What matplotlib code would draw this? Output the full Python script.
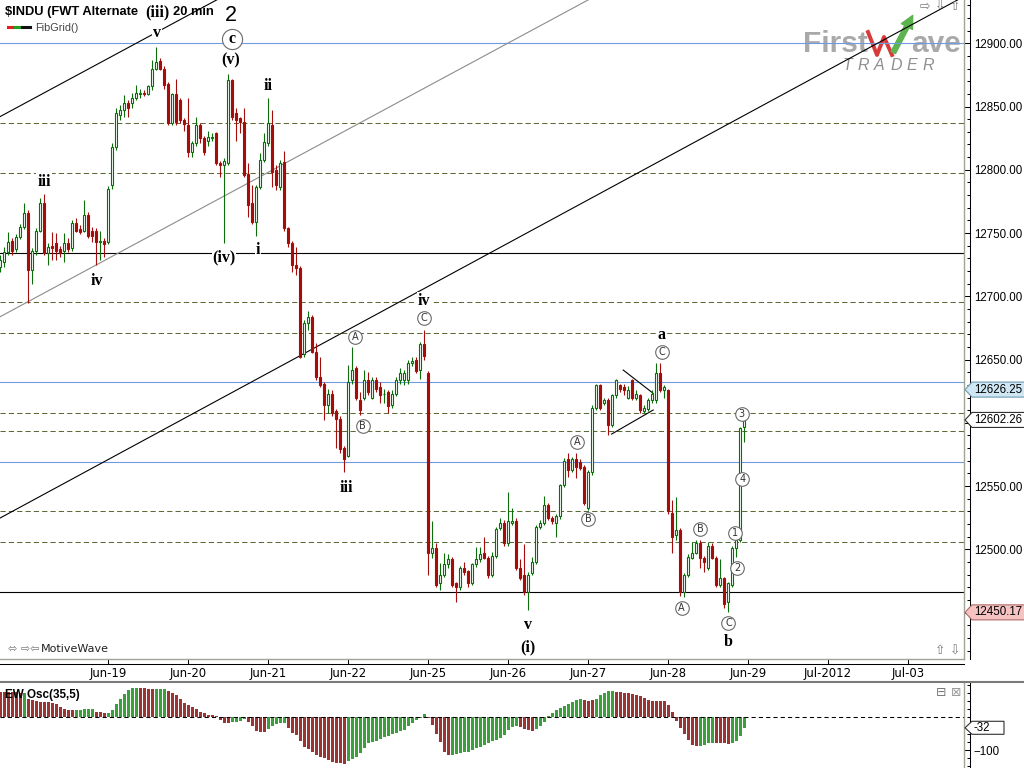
import numpy as np
import matplotlib
matplotlib.use("Agg")
import matplotlib.pyplot as plt
from matplotlib.patches import Polygon, FancyArrowPatch
from matplotlib.lines import Line2D
from matplotlib.transforms import IdentityTransform
from matplotlib.ticker import MultipleLocator, FuncFormatter

plt.rcParams['font.family'] = ['DejaVu Sans']

# 20 min bars of $INDU, last bars of Jun-15 up to the Jun-28 close
opens = [12723, 12727, 12735, 12744, 12737, 12747, 12755, 12766, 12721, 12736,
         12752, 12774, 12734, 12740, 12742, 12737, 12736, 12742, 12738, 12758,
         12753, 12752, 12764, 12752, 12752, 12743, 12744, 12743, 12788, 12818,
         12843, 12847, 12853, 12853, 12857, 12860, 12861, 12860, 12866, 12880,
         12886, 12880, 12868, 12837, 12860, 12855, 12839, 12835, 12814, 12821,
         12835, 12825, 12823, 12825, 12829, 12805, 12804, 12805, 12871, 12845,
         12841, 12838, 12797, 12774, 12759, 12786, 12808, 12821, 12835, 12800,
         12786, 12806, 12754, 12742, 12725, 12722, 12654, 12679, 12684, 12656,
         12636, 12631, 12614, 12623, 12609, 12603, 12580, 12574, 12634, 12643,
         12618, 12620, 12634, 12620, 12634, 12628, 12623, 12624, 12614, 12623,
         12634, 12634, 12634, 12647, 12650, 12642, 12662, 12639, 12497, 12501,
         12473, 12480, 12488, 12492, 12473, 12470, 12485, 12483, 12473, 12488,
         12492, 12497, 12493, 12480, 12495, 12517, 12521, 12505, 12521, 12522,
         12485, 12480, 12466, 12481, 12490, 12518, 12521, 12535, 12525, 12521,
         12526, 12551, 12571, 12563, 12571, 12569, 12565, 12533, 12561, 12612,
         12630, 12616, 12618, 12598, 12622, 12630, 12628, 12620, 12634, 12620,
         12622, 12609, 12611, 12618, 12618, 12639, 12626, 12626, 12529, 12511,
         12515, 12466, 12480, 12493, 12497, 12505, 12493, 12485, 12503, 12493,
         12472, 12477, 12458, 12472, 12501, 12507, 12597]
highs = [12733, 12739, 12751, 12746, 12749, 12757, 12774, 12768, 12738, 12754,
         12778, 12781, 12742, 12751, 12750, 12740, 12750, 12746, 12760, 12762,
         12756, 12776, 12767, 12755, 12754, 12752, 12746, 12787, 12821, 12849,
         12851, 12859, 12855, 12861, 12867, 12864, 12863, 12867, 12887, 12897,
         12888, 12882, 12869, 12861, 12872, 12857, 12841, 12857, 12823, 12842,
         12837, 12827, 12831, 12829, 12830, 12807, 12809, 12876, 12872, 12849,
         12842, 12849, 12805, 12788, 12788, 12813, 12829, 12857, 12847, 12804,
         12808, 12815, 12755, 12744, 12739, 12724, 12681, 12688, 12685, 12663,
         12652, 12632, 12627, 12626, 12611, 12605, 12582, 12646, 12660, 12645,
         12624, 12642, 12640, 12636, 12636, 12632, 12627, 12626, 12626, 12636,
         12643, 12642, 12650, 12652, 12652, 12664, 12673, 12641, 12522, 12505,
         12489, 12497, 12496, 12494, 12474, 12487, 12490, 12484, 12489, 12502,
         12502, 12510, 12495, 12498, 12518, 12525, 12523, 12545, 12533, 12525,
         12492, 12504, 12482, 12494, 12519, 12523, 12542, 12537, 12526, 12528,
         12552, 12572, 12576, 12573, 12576, 12571, 12567, 12563, 12614, 12631,
         12631, 12620, 12620, 12623, 12635, 12631, 12631, 12629, 12635, 12626,
         12623, 12614, 12620, 12626, 12647, 12647, 12630, 12627, 12539, 12541,
         12517, 12481, 12496, 12506, 12507, 12507, 12495, 12506, 12505, 12495,
         12492, 12478, 12474, 12503, 12510, 12597, 12604]
lows = [12719, 12723, 12733, 12733, 12735, 12745, 12753, 12695, 12710, 12733,
        12751, 12733, 12725, 12729, 12729, 12731, 12727, 12735, 12736, 12751,
        12749, 12751, 12746, 12743, 12725, 12729, 12731, 12741, 12785, 12816,
        12839, 12842, 12842, 12849, 12855, 12857, 12858, 12859, 12863, 12879,
        12879, 12864, 12835, 12835, 12835, 12837, 12831, 12810, 12810, 12819,
        12821, 12812, 12819, 12823, 12804, 12794, 12742, 12804, 12839, 12823,
        12829, 12794, 12763, 12757, 12748, 12785, 12806, 12819, 12786, 12784,
        12784, 12752, 12739, 12719, 12717, 12651, 12652, 12673, 12655, 12634,
        12628, 12602, 12608, 12605, 12580, 12576, 12561, 12573, 12631, 12618,
        12606, 12618, 12622, 12619, 12624, 12616, 12616, 12608, 12612, 12621,
        12631, 12630, 12631, 12645, 12639, 12635, 12650, 12480, 12493, 12470,
        12468, 12478, 12485, 12470, 12458, 12468, 12480, 12470, 12472, 12486,
        12490, 12492, 12477, 12478, 12493, 12515, 12503, 12503, 12519, 12484,
        12476, 12464, 12452, 12480, 12488, 12516, 12519, 12523, 12520, 12510,
        12524, 12549, 12557, 12561, 12556, 12563, 12535, 12531, 12559, 12610,
        12610, 12614, 12590, 12597, 12620, 12624, 12622, 12619, 12618, 12618,
        12608, 12608, 12609, 12616, 12616, 12624, 12620, 12528, 12497, 12507,
        12463, 12462, 12478, 12492, 12496, 12485, 12482, 12484, 12492, 12470,
        12470, 12454, 12450.17, 12470, 12494, 12506, 12585]
closes = [12729, 12735, 12743, 12736, 12747, 12755, 12766, 12721, 12736, 12752,
          12774, 12734, 12739, 12738, 12736, 12734, 12742, 12737, 12758, 12752,
          12751, 12764, 12748, 12748, 12743, 12744, 12741, 12785, 12818, 12845,
          12847, 12853, 12849, 12857, 12861, 12861, 12860, 12866, 12880, 12885,
          12880, 12867, 12837, 12860, 12838, 12839, 12836, 12814, 12821, 12835,
          12825, 12814, 12826, 12826, 12805, 12804, 12807, 12871, 12842, 12839,
          12838, 12796, 12772, 12759, 12786, 12808, 12822, 12837, 12798, 12788,
          12805, 12754, 12742, 12725, 12722, 12652, 12679, 12684, 12656, 12636,
          12630, 12614, 12623, 12608, 12603, 12579, 12571, 12632, 12642, 12620,
          12610, 12634, 12624, 12634, 12627, 12622, 12623, 12613, 12623, 12634,
          12639, 12639, 12647, 12649, 12641, 12662, 12653, 12497, 12501, 12472,
          12480, 12488, 12492, 12472, 12470, 12485, 12482, 12473, 12488, 12492,
          12496, 12493, 12480, 12495, 12516, 12521, 12505, 12522, 12522, 12485,
          12477, 12466, 12480, 12490, 12518, 12521, 12535, 12525, 12522, 12526,
          12551, 12570, 12563, 12571, 12565, 12564, 12537, 12561, 12612, 12630,
          12612, 12618, 12598, 12622, 12634, 12627, 12626, 12626, 12620, 12623,
          12610, 12612, 12618, 12623, 12639, 12626, 12628, 12530, 12510, 12515,
          12466, 12480, 12494, 12497, 12505, 12493, 12490, 12503, 12493, 12472,
          12477, 12457, 12473, 12501, 12507, 12596, 12602.26]

# EW oscillator (35,5) histogram, one value per bar, r = falling, g = rising
osc_vals = [77, 77, 77, 77, 76, 74, 74,
            57, 52, 50, 48, 46, 46, 44, 40, 32, 26, 22, 22,
            22, 22, 24, 24, 24, 17, 15, 12,
            12, 22, 40, 55, 72, 85, 91, 91, 91, 89, 88, 88, 88, 88, 88,
            81, 75, 67, 56, 45, 38, 32, 25, 16, 12, 7, 7, 4, -8, -16, -16,
            -13, -13, -10, -4, -13, -28, -41, -46, -46, -36, -28, -21, -18, -18,
            -33, -48, -55, -73, -91, -98, -105, -116, -121, -123, -131, -136, -140, -140, -142,
            -135, -128, -121, -108, -93, -80, -75, -71, -65, -60, -56, -51, -48, -43, -38,
            -28, -16, -8, -1, 10,
            -1, -23, -50, -76, -106, -116,
            -116, -113, -108, -106, -106, -100, -95, -90, -85, -78, -73, -68, -63, -53, -40, -31, -28,
            -31, -35, -40, -43,
            -36, -26, -13, 5, 14, 22, 29, 35, 40, 46, 52, 57,
            52, 50, 52, 57, 67, 75, 80, 80,
            79, 77, 75, 75, 70, 69, 65, 60, 54, 50, 50, 50, 50, 37, 15, -10, -33, -50, -68, -85, -88,
            -88, -85, -80, -78, -78, -78, -80, -83, -78, -73, -58, -32]
osc_colors = ("rrrrrrg" + "r" * 12 + "g" * 5 + "r" * 3 + "g" * 8 + "r" * 4 + "g" * 3
              + "r" * 16 + "g" * 4 + "r" * 5 + "g" * 5 + "r" * 15 + "g" * 20 + "r" * 6
              + "g" * 17 + "r" * 4 + "g" * 12 + "r" * 3 + "g" * 5 + "r" * 21 + "g" * 4
              + "r" * 4 + "g" * 4)

day_ticks = [27, 47, 67, 87, 107, 127, 147, 167, 187, 207, 227]
day_labels = ['Jun-19', 'Jun-20', 'Jun-21', 'Jun-22', 'Jun-25', 'Jun-26',
              'Jun-27', 'Jun-28', 'Jun-29', 'Jul-2012', 'Jul-03']

# FibGrid levels
fib_dashed = [12836.7, 12797.2, 12695.2, 12670.7, 12607.5, 12593.5, 12530.3, 12505.5]
fib_blue = [12900.0, 12632.0, 12568.8]
fib_black = [12734.0, 12466.5]

# trend lines (bar index, price)
channel_top = ([0, 60], [12842.0, 12944.2])
channel_mid = ([0, 150], [12683.8, 12939.3])
channel_low = ([0, 241], [12524.7, 12937.0])
tri_upper = ([155.8, 163.3], [12641.7, 12623.3])
tri_lower = ([152.9, 163.3], [12591.1, 12610.1])

wave_labels = [('(iii)', 39.25, 12924.7), ('v', 39.25, 12908.1), ('(v)', 57.75, 12886.8),
               ('ii', 67, 12866.2), ('iii', 11, 12790.3), ('iv', 24.25, 12712.1),
               ('(iv)', 56, 12731.1), ('i', 64.5, 12736.6), ('iv', 106, 12696.5),
               ('iii', 86.5, 12548.4), ('v', 132.1, 12440.1), ('(i)', 132, 12422.7),
               ('a', 165.4, 12669.4), ('b', 182, 12426.7)]
circle_labels = [('A', 88.75, 12667.8), ('B', 90.7, 12597.7), ('C', 106, 12682.8),
                 ('A', 144.2, 12585.0), ('B', 147.1, 12523.9), ('C', 165.5, 12656.0),
                 ('A', 170.4, 12453.8), ('B', 175, 12516.0), ('C', 182.1, 12442.0),
                 ('1', 183.75, 12513.1), ('2', 184.3, 12485.4), ('4', 185.6, 12555.6),
                 ('3', 185.4, 12606.7)]
major_label = ('2', 57.75, 12922.3)
major_circle = ('c', 57.9, 12903.4)

price_callouts = [(12626.25, '#cfe7f3', '#6d9bb3'), (12602.26, 'white', '#303030'),
                  (12450.17, '#f6c3c3', '#b06a6a')]
osc_last = -32

RED = '#a50d0d'
GREEN = '#0a6e0a'
OSC_RED = '#9b3535'
OSC_GREEN = '#3ba03b'
AXIS_FONT = 'Liberation Sans'

W, H = 1024, 768
PIX = IdentityTransform()
fig = plt.figure(figsize=(W / 100, H / 100), dpi=100)
fig.patch.set_facecolor('white')

ax = fig.add_axes([0, 1 - 659 / H, 964 / W, 659 / H])
ax2 = fig.add_axes([0, 0, 964 / W, 85 / H])
ax.set_xlim(0, 241)
ax.set_ylim(12413.3, 12934.2)
ax2.set_xlim(0, 241)
ax2.set_ylim(-155, 105)

# fib grid
for p in fib_dashed:
    ax.axhline(p, color='#5b6b35', lw=0.75, ls=(0, (5, 3)), zorder=1)
for p in fib_blue:
    ax.axhline(p, color='#6f9be0', lw=0.8, zorder=1)
for p in fib_black:
    ax.axhline(p, color='black', lw=0.8, zorder=1)

# trend lines
ax.plot(*channel_top, color='black', lw=0.8, zorder=2)
ax.plot(*channel_mid, color='#8c8c8c', lw=0.8, zorder=2)
ax.plot(*channel_low, color='black', lw=0.8, zorder=2)
ax.plot(*tri_upper, color='black', lw=0.8, zorder=2)
ax.plot(*tri_lower, color='black', lw=0.8, zorder=2)

# candles
o = np.array(opens, float)
h = np.array(highs, float)
l = np.array(lows, float)
c = np.array(closes, float)
x = np.arange(len(c))
up = c >= o
ax.vlines(x, l, h, colors=np.where(up, GREEN, RED), lw=0.8, zorder=3)
ax.bar(x[up], (c - o)[up], bottom=o[up], width=0.72, facecolor='white',
       edgecolor=GREEN, lw=0.8, zorder=4)
ax.bar(x[~up], (c - o)[~up], bottom=o[~up], width=0.72, facecolor=RED,
       edgecolor=RED, lw=0.8, zorder=4)

# wave labels
for txt, b, p in wave_labels:
    ax.text(b, p, txt, ha='center', va='center', fontsize=11.5, fontweight='bold',
            family='Liberation Serif', zorder=8,
            bbox=dict(boxstyle='square,pad=0.05', fc='white', ec='none'))
for txt, b, p in circle_labels:
    ax.plot(b, p, 'o', ms=9.8, mfc='white', mec='#6a6a6a', mew=0.8, zorder=8)
    ax.text(b, p, txt, ha='center', va='center', fontsize=7, color='#333333', zorder=9)
ax.text(major_label[1], major_label[2], major_label[0], ha='center', va='center',
        fontsize=15.5, family='Liberation Sans', zorder=8)
ax.plot(major_circle[1], major_circle[2], 'o', ms=14.5, mfc='white', mec='#6a6a6a',
        mew=0.8, zorder=8)
ax.text(major_circle[1], major_circle[2], major_circle[0], ha='center', va='center',
        fontsize=11.5, fontweight='bold', family='Liberation Serif', zorder=9)

# axes / ticks
for sp in ['left', 'top']:
    ax.spines[sp].set_visible(False)
ax.spines['right'].set_position(('outward', 4.3))
ax.spines['bottom'].set_position(('outward', 3.6))
for sp in ['right', 'bottom']:
    ax.spines[sp].set_linewidth(0.75)
ax.yaxis.tick_right()
ax.yaxis.set_major_locator(MultipleLocator(50))
ax.yaxis.set_minor_locator(MultipleLocator(10))
hidden = [round(p) for p, _, _ in price_callouts]
ax.yaxis.set_major_formatter(FuncFormatter(
    lambda v, _: '' if any(abs(v - q) < 8 for q in hidden) else f'{v:.2f}'))
ax.tick_params(axis='y', which='major', direction='in', length=4.3, width=0.75,
               labelsize=8.3, pad=2.8, labelfontfamily=AXIS_FONT)
ax.tick_params(axis='y', which='minor', direction='in', length=2.2, width=0.75)
ax.set_xticks(day_ticks)
ax.set_xticklabels(day_labels)
ax.tick_params(axis='x', direction='in', length=3.6, width=0.75, labelsize=8.4, pad=2)

ax.add_line(Line2D([0, 1], [0, 0], transform=ax.transAxes, color='#a3a396', lw=1.0,
                   clip_on=False, zorder=5))
ax.add_line(Line2D([1, 1], [0, 1], transform=ax.transAxes, color='#a3a396', lw=1.0,
                   clip_on=False, zorder=5))

# oscillator panel
ax2.bar(np.arange(len(osc_vals)), osc_vals, width=0.75,
        color=[OSC_GREEN if k == 'g' else OSC_RED for k in osc_colors], lw=0, zorder=2)
ax2.axhline(0, color='black', lw=0.75, ls=(0, (4, 3)), zorder=3)
for sp in ['left', 'top', 'bottom']:
    ax2.spines[sp].set_visible(False)
ax2.spines['right'].set_position(('outward', 4.3))
ax2.spines['right'].set_linewidth(0.75)
ax2.set_xticks([])
ax2.yaxis.tick_right()
ax2.set_yticks([-100])
ax2.yaxis.set_minor_locator(MultipleLocator(25))
ax2.tick_params(axis='y', which='major', direction='in', length=4.3, width=0.75,
                labelsize=8.3, pad=2.8, labelfontfamily=AXIS_FONT)
ax2.tick_params(axis='y', which='minor', direction='in', length=2.2, width=0.75)
ax2.add_line(Line2D([1, 1], [0, 1], transform=ax2.transAxes, color='#a3a396', lw=1.0,
                    clip_on=False, zorder=5))
ax2.text(5, H - 695, 'EW Osc(35,5)', transform=PIX, fontsize=8.4, fontweight='bold',
         family='Liberation Sans', va='center', zorder=6)
ax2.text(941, H - 692, '\u229f', transform=PIX, fontsize=9, color='#777777',
         ha='center', va='center')
ax2.text(956, H - 692, '\u22a0', transform=PIX, fontsize=9, color='#999999',
         ha='center', va='center')

fig.add_artist(Line2D([0, W], [H - 682, H - 682], transform=PIX, color='#7a7a7a', lw=1.5))


def callout(axis, value, text, fc, ec, right=1030, half=7.5):
    yd = axis.transData.transform((0, value))[1]
    pts = [(965, yd), (972, yd + half), (right, yd + half), (right, yd - half), (972, yd - half)]
    fig.add_artist(Polygon(pts, closed=True, fc=fc, ec=ec, lw=0.8, transform=PIX, zorder=5))
    fig.text(974, yd, text, transform=PIX, fontsize=8.3, va='center', ha='left',
             family=AXIS_FONT, zorder=6)


for val, fc, ec in price_callouts:
    callout(ax, val, f'{val:.2f}', fc, ec)
callout(ax2, osc_last, str(osc_last), 'white', '#303030', right=1004, half=6.5)

# header (split around the (iii) wave label), legend and watermark
fig.text(5, H - 12, '$INDU (FWT Alternate', transform=PIX, fontsize=9.3,
         fontweight='bold', family='Liberation Sans', va='center', parse_math=False, zorder=1)
fig.text(173, H - 12, '20 min', transform=PIX, fontsize=9.3,
         fontweight='bold', family='Liberation Sans', va='center', zorder=1)
for x0, col in [(8, '#e02020'), (15, '#20a020'), (22, '#111111')]:
    fig.add_artist(Line2D([x0, x0 + 7.5], [H - 27, H - 27], transform=PIX, color=col, lw=2.2))
fig.text(35, H - 28, 'FibGrid()', transform=PIX, fontsize=7.8, color='#444444',
         family='Liberation Sans', va='center')
fig.text(8, H - 649, '\u2b04 \u21e8\u21e6', transform=PIX, fontsize=8, color='#777777',
         va='center')
fig.text(41, H - 649, 'MotiveWave', transform=PIX, fontsize=8, color='#222222', va='center')
for xi, ch in [(925, '\u21e8'), (940, '\u21e9'), (955, '\u21e7')]:
    fig.text(xi, H - 6, ch, transform=PIX, fontsize=9, color='#777777', ha='center', va='center')
for xi, ch in [(940, '\u21e7'), (955, '\u21e9')]:
    fig.text(xi, H - 651, ch, transform=PIX, fontsize=9, color='#777777', ha='center', va='center')

ax.text(803, H - 44, 'First', transform=PIX, fontsize=21.5, fontweight='bold',
        family='Liberation Sans', color='#a9a9a9', va='center', ha='left', zorder=0.5)
ax.text(911, H - 44, 'ave', transform=PIX, fontsize=21.5, fontweight='bold',
        family='Liberation Sans', color='#a9a9a9', va='center', ha='left', zorder=0.5)
ax.add_line(Line2D([868, 877, 884, 892], [H - 32, H - 55, H - 37, H - 55], transform=PIX,
                   color='#d83a3a', lw=2.8, zorder=0.6))
ax.add_patch(FancyArrowPatch((892, H - 55), (914, H - 13), transform=PIX,
                             arrowstyle='simple,head_width=9,head_length=9,tail_width=3.5',
                             color='#5db350', zorder=0.6))
for k, ch in enumerate('TRADER'):
    ax.text(847 + 16.3 * k, H - 65, ch, transform=PIX, fontsize=11.5, style='italic',
            family='Liberation Sans', color='#8f8f8f', ha='center', va='center', zorder=0.5)

fig.savefig('out.png', dpi=100)
